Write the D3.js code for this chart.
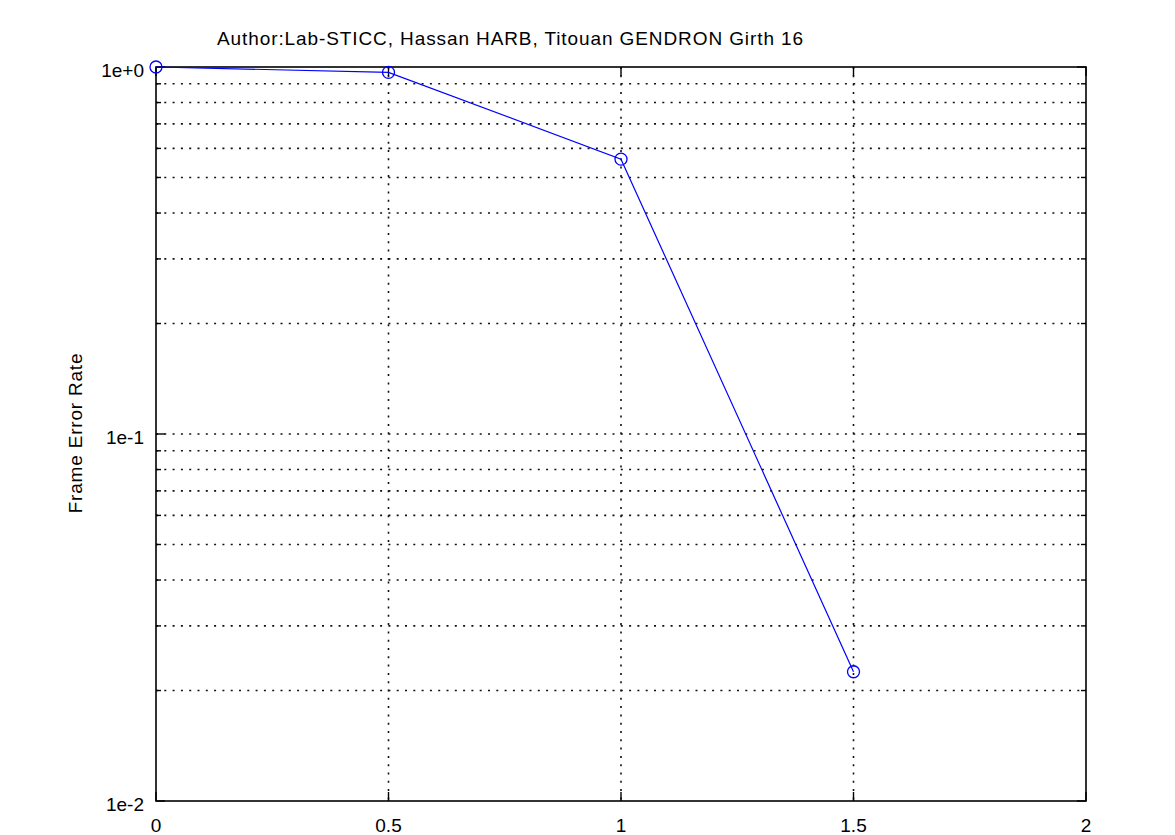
<!DOCTYPE html>
<html>
<head>
<meta charset="utf-8">
<script src="https://cdn.jsdelivr.net/npm/d3@7"></script>
<style>
  body { margin: 0; background: #fff; }
  svg { display: block; font-family: "Liberation Sans", Arial, sans-serif; }
  .grid line { stroke: #111; stroke-width: 1.6; stroke-dasharray: 2,6.3; }
</style>
</head>
<body>
<svg width="1175" height="835"></svg>
<script>
// data
var snr = [0, 0.5, 1, 1.5];
var fer = [1.0, 0.967, 0.561, 0.0225];
var xTicks = [0, 0.5, 1, 1.5, 2];
var yTicks = [1e-2, 1e-1, 1e0];
var yTickLabels = ["1e-2", "1e-1", "1e+0"];
var titleText = "Author:Lab-STICC, Hassan HARB, Titouan GENDRON Girth 16";
var yLabelText = "Frame Error Rate";

var svg = d3.select("svg");
var pLeft = 156, pRight = 1086, pTop = 67, pBottom = 801;

var x = d3.scaleLinear().domain([0, 2]).range([pLeft, pRight]);
var y = d3.scaleLog().domain([1e-2, 1]).range([pBottom, pTop]);

// minor values 2..9 per decade
var minor = [];
[1e-2, 1e-1].forEach(function(d) {
    for (var i = 2; i <= 9; i++) minor.push(d * i);
});
var yGrid = minor.concat([1e-1]);

var grid = svg.append("g").attr("class", "grid");
grid.selectAll(".hg")
    .data(yGrid)
    .enter().append("line")
    .attr("x1", pLeft).attr("x2", pRight)
    .attr("y1", function(d) { return y(d); })
    .attr("y2", function(d) { return y(d); });
grid.selectAll(".vg")
    .data(xTicks.slice(1, -1))
    .enter().append("line")
    .attr("y1", pTop).attr("y2", pBottom)
    .attr("x1", function(d) { return x(d); })
    .attr("x2", function(d) { return x(d); });

// tick marks, inside, on all four sides
var ticks = svg.append("g").attr("stroke", "#000").attr("stroke-width", 1.4);
function yTick(vals, len) {
    vals.forEach(function(d) {
        ticks.append("line").attr("x1", pLeft).attr("x2", pLeft + len)
            .attr("y1", y(d)).attr("y2", y(d));
        ticks.append("line").attr("x1", pRight).attr("x2", pRight - len)
            .attr("y1", y(d)).attr("y2", y(d));
    });
}
yTick(yTicks, 9);
yTick(minor, 5);
xTicks.forEach(function(d) {
    ticks.append("line").attr("x1", x(d)).attr("x2", x(d))
        .attr("y1", pBottom).attr("y2", pBottom - 9);
    ticks.append("line").attr("x1", x(d)).attr("x2", x(d))
        .attr("y1", pTop).attr("y2", pTop + 9);
});

// frame
svg.append("rect")
    .attr("x", pLeft).attr("y", pTop)
    .attr("width", pRight - pLeft).attr("height", pBottom - pTop)
    .attr("fill", "none").attr("stroke", "#000").attr("stroke-width", 1.6);

// tick labels
svg.append("g").selectAll("text")
    .data(yTicks)
    .enter().append("text")
    .attr("x", pLeft - 12)
    .attr("y", function(d) { return y(d) + 10; })
    .attr("text-anchor", "end")
    .attr("font-size", 19)
    .text(function(d, i) { return yTickLabels[i]; });

svg.append("g").selectAll("text")
    .data(xTicks)
    .enter().append("text")
    .attr("x", function(d) { return x(d); })
    .attr("y", pBottom + 31)
    .attr("text-anchor", "middle")
    .attr("font-size", 19)
    .text(function(d) { return d; });

// series
var pts = snr.map(function(d, i) { return [d, fer[i]]; });
var line = d3.line()
    .x(function(d) { return x(d[0]); })
    .y(function(d) { return y(d[1]); });

svg.append("path")
    .datum(pts)
    .attr("d", line)
    .attr("fill", "none")
    .attr("stroke", "#0000ff")
    .attr("stroke-width", 1.2);

svg.append("g").selectAll("circle")
    .data(pts)
    .enter().append("circle")
    .attr("cx", function(d) { return x(d[0]); })
    .attr("cy", function(d) { return y(d[1]); })
    .attr("r", 6)
    .attr("fill", "none")
    .attr("stroke", "#0000ff")
    .attr("stroke-width", 1.3);

// title and axis label
svg.append("text")
    .attr("x", 217)
    .attr("y", 45)
    .attr("font-size", 19)
    .attr("letter-spacing", 0.9)
    .text(titleText);

svg.append("text")
    .attr("transform", "translate(82,433) rotate(-90)")
    .attr("text-anchor", "middle")
    .attr("font-size", 19)
    .attr("letter-spacing", 0.8)
    .text(yLabelText);
</script>
</body>
</html>
